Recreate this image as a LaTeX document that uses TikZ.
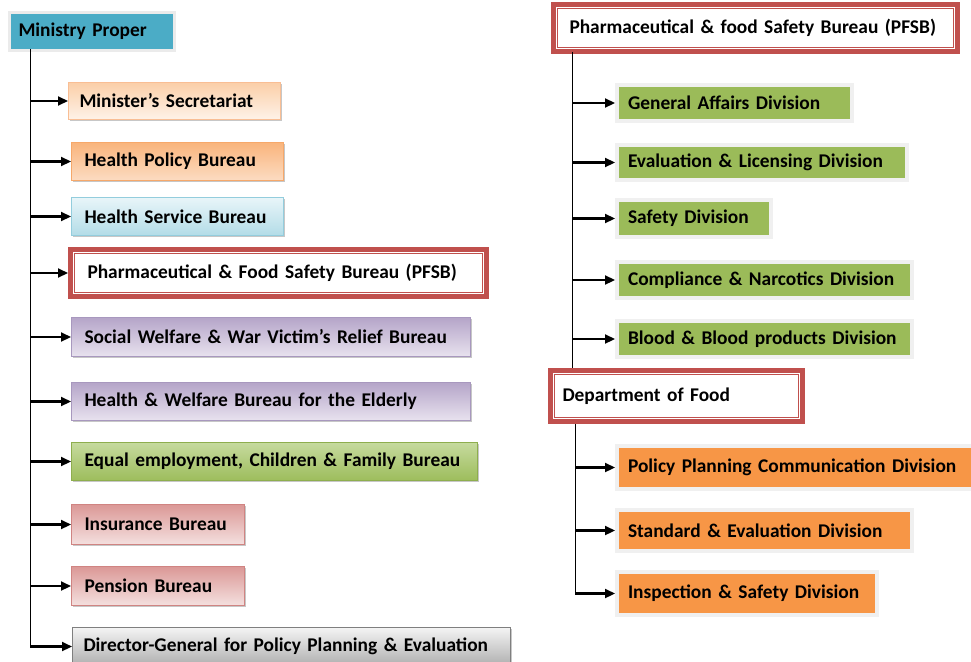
\documentclass[tikz,border=0pt]{standalone}
\usepackage{fontspec}
\setmainfont{Carlito}
\usetikzlibrary{arrows.meta,shadows}
\definecolor{tealc}{HTML}{4BACC6}
\definecolor{redc}{HTML}{C0504D}
\definecolor{grn}{HTML}{9BBB59}
\definecolor{org}{HTML}{F79646}
\definecolor{peachT}{HTML}{FBCFA8}
\definecolor{peachB}{HTML}{FEF2E8}
\definecolor{peachD}{HTML}{F9BE94}
\definecolor{orgT}{HTML}{F9B47C}
\definecolor{orgB}{HTML}{FCDCC2}
\definecolor{orgD}{HTML}{F6A86A}
\definecolor{blueT}{HTML}{E8F5F9}
\definecolor{blueB}{HTML}{B3DCE7}
\definecolor{blueD}{HTML}{93CDDD}
\definecolor{purT}{HTML}{B5A5C9}
\definecolor{purB}{HTML}{E8E2EE}
\definecolor{purD}{HTML}{A898BE}
\definecolor{grnT}{HTML}{C6DA9E}
\definecolor{grnB}{HTML}{9DBD5C}
\definecolor{grnD}{HTML}{8EAE4E}
\definecolor{pinkT}{HTML}{DB9896}
\definecolor{pinkB}{HTML}{F4E0DF}
\definecolor{pinkD}{HTML}{D08482}
\definecolor{grayT}{HTML}{F4F4F4}
\definecolor{grayB}{HTML}{AFAFAF}
\definecolor{grayD}{HTML}{7F7F7F}
\tikzset{
  box/.style={anchor=north west, inner xsep=13pt, inner ysep=0pt, align=left,
    font=\fontsize{19.4}{22}\selectfont\bfseries, text=black},
  shad/.style={drop shadow={shadow xshift=1.5pt, shadow yshift=-1.5pt, fill=black!40, opacity=0.55}},
  grad/.style n args={3}{box, shad, top color=#1, bottom color=#2, draw=#3, line width=1pt},
  redbox/.style={box, fill=white, draw=redc, line width=5pt},
  flat/.style={box, inner xsep=11pt, fill=#1, draw=black!6, line width=4pt, shad},
  trunk/.style={black, line width=1pt},
  arr/.style={black, line width=2.2pt, -{Triangle[length=10pt,width=9pt]}},
}
% node anchors lie on the outer edge of the 5pt band (outer sep = half line width)
\newcommand{\innerline}[1]{\draw[redc, line width=1pt] ([xshift=6.9pt,yshift=-6.9pt]#1.north west) rectangle ([xshift=-6.9pt,yshift=6.9pt]#1.south east);}
\begin{document}
\begin{tikzpicture}[x=1pt,y=-1pt]
\useasboundingbox (0,0) rectangle (971,661);
% ---------------- left column ----------------
\node[box, fill=tealc, draw=black!8, line width=3pt, inner xsep=9pt, text width=147pt, minimum height=38pt] (mp) at (8,11) {Ministry Proper};
\node[grad={peachT}{peachB}{peachD}, inner xsep=11pt, text width=190pt, minimum height=37pt] (ms) at (68,82) {Minister’s Secretariat};
\node[grad={orgT}{orgB}{orgD}, text width=186pt, minimum height=38pt] (hp) at (71,142) {Health Policy Bureau};
\node[grad={blueT}{blueB}{blueD}, text width=186pt, minimum height=38pt] (hs) at (71,197) {Health Service Bureau};
\node[redbox, inner xsep=17pt, text width=382pt, minimum height=47pt] (pf) at (68,247) {Pharmaceutical \& Food Safety Bureau (PFSB)};
\innerline{pf}
\node[grad={purT}{purB}{purD}, text width=373pt, minimum height=39pt] (sw) at (71,317) {Social Welfare \& War Victim’s Relief Bureau};
\node[grad={purT}{purB}{purD}, text width=373pt, minimum height=38pt] (he) at (71,382) {Health \& Welfare Bureau for the Elderly};
\node[grad={grnT}{grnB}{grnD}, text width=380pt, minimum height=38pt] (eq) at (71,442) {Equal employment, Children \& Family Bureau};
\node[grad={pinkT}{pinkB}{pinkD}, text width=147pt, minimum height=40pt] (ib) at (71,504) {Insurance Bureau};
\node[grad={pinkT}{pinkB}{pinkD}, text width=147pt, minimum height=39pt] (pb) at (71,566) {Pension Bureau};
\node[grad={grayT}{grayB}{grayD}, inner xsep=11pt, text width=416pt, minimum height=38pt] (dg) at (72,627) {Director-General for Policy Planning \& Evaluation};
\coordinate (t1) at (30,49);
\draw[trunk] (t1) -- (t1 |- dg.west);
\foreach \n in {ms,hp,hs,pf,sw,he,eq,ib,pb,dg}{
  \draw[arr] (t1 |- \n.west) -- (\n.west);
}
% ---------------- right column ----------------
\node[redbox, inner xsep=16pt, text width=372pt, minimum height=47pt] (rp) at (551,2) {Pharmaceutical \& food Safety Bureau (PFSB)};
\innerline{rp}
\node[flat=grn, text width=213pt, minimum height=36pt] (ga) at (615,83) {General Affairs Division};
\node[flat=grn, text width=268pt, minimum height=35pt] (el) at (615,143) {Evaluation \& Licensing Division};
\node[flat=grn, text width=132pt, minimum height=37pt] (sd) at (615,198) {Safety Division};
\node[flat=grn, text width=273pt, minimum height=36pt] (cn) at (615,260) {Compliance \& Narcotics Division};
\node[flat=grn, text width=273pt, minimum height=36pt] (bb) at (615,319) {Blood \& Blood products Division};
\node[redbox, inner xsep=12pt, text width=228pt, minimum height=51pt] (df) at (548,368) {Department of Food};
\innerline{df}
\node[flat=org, text width=338pt, minimum height=43pt] (pp) at (615,444) {Policy Planning Communication Division};
\node[flat=org, text width=273pt, minimum height=41pt] (se) at (615,508) {Standard \& Evaluation Division};
\node[flat=org, text width=238pt, minimum height=43pt] (is) at (615,570) {Inspection \& Safety Division};
\coordinate (t2) at (572,52);
\draw[trunk] (t2) -- (t2 |- df.north);
\foreach \n in {ga,el,sd,cn,bb}{
  \draw[arr] (t2 |- \n.west) -- (\n.west);
}
\coordinate (t3) at (575,424);
\draw[trunk] (t3) -- (t3 |- is.west);
\foreach \n in {pp,se,is}{
  \draw[arr] (t3 |- \n.west) -- (\n.west);
}
\end{tikzpicture}
\end{document}
